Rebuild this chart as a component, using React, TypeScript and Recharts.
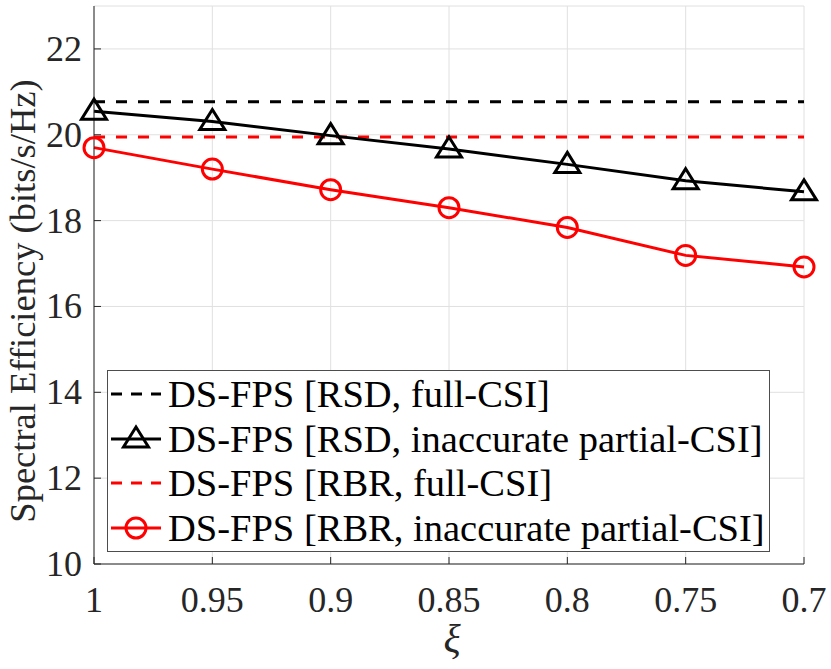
import React from 'react';
import { LineChart, Line, XAxis, YAxis, CartesianGrid, Legend, Label } from 'recharts';

const xi = [1, 0.95, 0.9, 0.85, 0.8, 0.75, 0.7];
const xTickLabels = ['1', '0.95', '0.9', '0.85', '0.8', '0.75', '0.7'];
const yTicks = [10, 12, 14, 16, 18, 20, 22];
const rsdFull = [20.77, 20.77, 20.77, 20.77, 20.77, 20.77, 20.77];
const rsdPartial = [20.55, 20.31, 19.98, 19.67, 19.31, 18.93, 18.67];
const rbrFull = [19.95, 19.95, 19.95, 19.95, 19.95, 19.95, 19.95];
const rbrPartial = [19.7, 19.2, 18.72, 18.3, 17.84, 17.19, 16.92];

const seriesNames = {
  rsdFull: 'DS-FPS [RSD, full-CSI]',
  rsdPartial: 'DS-FPS [RSD, inaccurate partial-CSI]',
  rbrFull: 'DS-FPS [RBR, full-CSI]',
  rbrPartial: 'DS-FPS [RBR, inaccurate partial-CSI]',
};

const data = xi.map((x, i) => ({
  x,
  rsdFull: rsdFull[i],
  rsdPartial: rsdPartial[i],
  rbrFull: rbrFull[i],
  rbrPartial: rbrPartial[i],
}));

const FONT = 'Liberation Serif, Tinos, Times New Roman, Times, Nimbus Roman, DejaVu Serif, serif';
const AX = '#262626';
const TICK_LEN = 7;

const labelFor = (v: number) => {
  const i = xi.indexOf(v);
  return i >= 0 ? xTickLabels[i] : String(v);
};

const BottomTick = (p: any) => (
  <g>
    <line x1={p.x} y1={p.y} x2={p.x} y2={p.y - TICK_LEN} stroke={AX} strokeWidth={1} />
    <text x={p.x} y={p.y + 48} textAnchor="middle" style={{ fontFamily: FONT }} fontSize={36} fill={AX}>
      {labelFor(p.payload.value)}
    </text>
  </g>
);
const TopTick = (p: any) => (
  <line x1={p.x} y1={p.y} x2={p.x} y2={p.y + TICK_LEN} stroke={AX} strokeWidth={1} />
);
const LeftTick = (p: any) => (
  <g>
    <line x1={p.x} y1={p.y} x2={p.x + TICK_LEN} y2={p.y} stroke={AX} strokeWidth={1} />
    <text x={p.x - 12} y={p.y + 12} textAnchor="end" style={{ fontFamily: FONT }} fontSize={36} fill={AX}>
      {p.payload.value}
    </text>
  </g>
);
const RightTick = (p: any) => (
  <line x1={p.x} y1={p.y} x2={p.x - TICK_LEN} y2={p.y} stroke={AX} strokeWidth={1} />
);

const Triangle = (p: any) => {
  const { cx, cy } = p;
  if (cx == null || cy == null) return null;
  return (
    <path
      key={`t${p.index}`}
      d={`M${cx},${cy - 12} L${cx + 12.5},${cy + 8} L${cx - 12.5},${cy + 8} Z`}
      fill="none"
      stroke="#000"
      strokeWidth={3}
      strokeLinejoin="miter"
    />
  );
};
const Circle = (p: any) => {
  const { cx, cy } = p;
  if (cx == null || cy == null) return null;
  return <circle key={`c${p.index}`} cx={cx} cy={cy} r={10} fill="none" stroke="#ff0000" strokeWidth={3} />;
};

const YLabel = (p: any) => {
  const vb = p.viewBox || { x: 0, y: 6, width: 94, height: 558 };
  const cx = vb.x + 35;
  const cy = vb.y + vb.height / 2 + 16;
  return (
    <text x={cx} y={cy} transform={`rotate(-90 ${cx} ${cy})`} textAnchor="middle" style={{ fontFamily: FONT }} fontSize={36.5} fill={AX}>
      Spectral Efficiency (bits/s/Hz)
    </text>
  );
};
const XLabel = (p: any) => {
  const vb = p.viewBox || { x: 94, y: 564, width: 710, height: 105 };
  const cx = vb.x + vb.width / 2 + 3;
  const cy = vb.y + 88;
  return (
    <text x={cx} y={cy} textAnchor="middle" style={{ fontFamily: FONT }} fontStyle="italic" fontSize={40} fill={AX}>
      ξ
    </text>
  );
};

const order = ['rsdFull', 'rsdPartial', 'rbrFull', 'rbrPartial'];
const colorOf: Record<string, string> = { rsdFull: '#000', rsdPartial: '#000', rbrFull: '#ff0000', rbrPartial: '#ff0000' };

const Sample = ({ k }: { k: string }) => {
  const c = colorOf[k];
  const dashed = k === 'rsdFull' || k === 'rbrFull';
  return (
    <svg width={52} height={30} style={{ display: 'block' }}>
      <line x1={1} y1={15} x2={51} y2={15} stroke={c} strokeWidth={3} strokeDasharray={dashed ? '11 9' : undefined} />
      {k === 'rsdPartial' && (
        <path d={`M26,${15 - 12} L38.5,23 L13.5,23 Z`} fill="none" stroke={c} strokeWidth={3} />
      )}
      {k === 'rbrPartial' && <circle cx={26} cy={15} r={10} fill="none" stroke={c} strokeWidth={3} />}
    </svg>
  );
};

const LegendContent = () => (
  <div
    style={{
      width: 663,
      height: 182,
      boxSizing: 'border-box',
      border: '1px solid #4d4d4d',
      background: '#fff',
      position: 'relative',
    }}
  >
    {order.map((k, i) => (
      <div
        key={k}
        style={{
          position: 'absolute',
          left: 2,
          top: 23 + i * 44.7 - 22,
          height: 44,
          display: 'flex',
          alignItems: 'center',
          whiteSpace: 'nowrap',
        }}
      >
        <Sample k={k} />
        <span style={{ marginLeft: 6, fontFamily: FONT, fontSize: 38.5, color: '#000', lineHeight: '44px' }}>
          {(seriesNames as any)[k]}
        </span>
      </div>
    ))}
  </div>
);

export default function App() {
  return (
    <div style={{ position: 'absolute', left: 0, top: 0, fontFamily: FONT }}>
      <LineChart width={831} height={669} data={data} margin={{ top: 6, right: 27, left: 0, bottom: 0 }}>
        <CartesianGrid stroke="#e0e0e0" strokeWidth={1} />
        <XAxis
          dataKey="x"
          type="number"
          domain={[0.7, 1]}
          reversed
          ticks={xi}
          interval={0}
          height={105}
          tickSize={0}
          tickMargin={0}
          tickLine={false}
          axisLine={{ stroke: AX, strokeWidth: 1 }}
          tick={BottomTick}
        >
          <Label content={XLabel} />
        </XAxis>
        <XAxis
          xAxisId="top"
          orientation="top"
          dataKey="x"
          type="number"
          domain={[0.7, 1]}
          reversed
          ticks={xi}
          interval={0}
          height={0}
          tickSize={0}
          tickMargin={0}
          tickLine={false}
          axisLine={{ stroke: AX, strokeWidth: 1 }}
          tick={TopTick}
        />
        <YAxis
          type="number"
          domain={[10, 23]}
          ticks={yTicks}
          interval={0}
          width={94}
          tickSize={0}
          tickMargin={0}
          tickLine={false}
          axisLine={{ stroke: AX, strokeWidth: 1 }}
          tick={LeftTick}
          allowDataOverflow
        >
          <Label content={YLabel} />
        </YAxis>
        <YAxis
          yAxisId="right"
          orientation="right"
          type="number"
          domain={[10, 23]}
          ticks={yTicks}
          interval={0}
          width={0}
          tickSize={0}
          tickMargin={0}
          tickLine={false}
          axisLine={{ stroke: AX, strokeWidth: 1 }}
          tick={RightTick}
        />
        <Line
          dataKey="rsdFull"
          name={seriesNames.rsdFull}
          stroke="#000"
          strokeWidth={3}
          strokeDasharray="11 11"
          dot={false}
          activeDot={false}
          isAnimationActive={false}
        />
        <Line
          dataKey="rbrFull"
          name={seriesNames.rbrFull}
          stroke="#ff0000"
          strokeWidth={3}
          strokeDasharray="11 11"
          dot={false}
          activeDot={false}
          isAnimationActive={false}
        />
        <Line
          dataKey="rsdPartial"
          name={seriesNames.rsdPartial}
          stroke="#000"
          strokeWidth={3}
          dot={Triangle}
          activeDot={false}
          isAnimationActive={false}
        />
        <Line
          dataKey="rbrPartial"
          name={seriesNames.rbrPartial}
          stroke="#ff0000"
          strokeWidth={3}
          dot={Circle}
          activeDot={false}
          isAnimationActive={false}
        />
        <Legend
          layout="vertical"
          align="center"
          verticalAlign="middle"
          content={LegendContent}
          wrapperStyle={{ left: 107, top: 370, width: 663, height: 182 }}
        />
      </LineChart>
    </div>
  );
}
